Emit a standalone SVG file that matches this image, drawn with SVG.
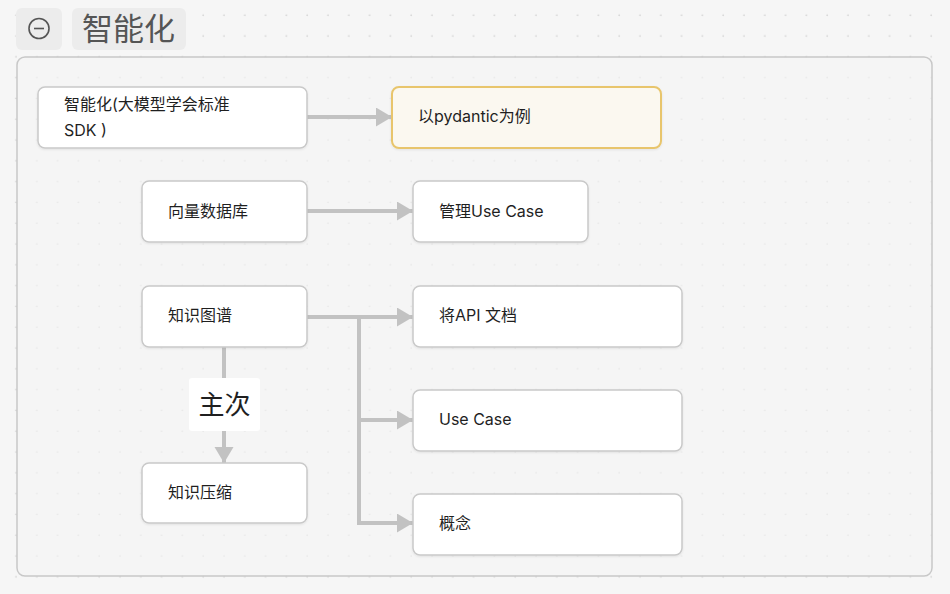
<svg xmlns="http://www.w3.org/2000/svg" width="950" height="594" viewBox="0 0 950 594">
<defs>
<pattern id="dots" x="0" y="0" width="20.8" height="20.8" patternUnits="userSpaceOnUse">
<circle cx="16" cy="15.2" r="0.9" fill="#d3d3d3"/>
</pattern>
<marker id="arr" markerUnits="userSpaceOnUse" markerWidth="18" markerHeight="20" refX="16" refY="9.5" orient="auto">
<path d="M0,0 L16,9.5 L0,19 Z" fill="#c2c2c2"/>
</marker>
<filter id="sh" x="-10%" y="-10%" width="120%" height="130%">
<feDropShadow dx="0" dy="1" stdDeviation="1" flood-color="#000" flood-opacity="0.08"/>
</filter>
</defs>
<style>
.node rect{fill:#ffffff;stroke:#c9c9c9;stroke-width:1.5;filter:url(#sh)}
.node text{font-family:"Inter","Noto Sans CJK SC",sans-serif;font-size:16px;fill:#1f1f1f}
.hl rect{fill:#fbf8f0;stroke:#e8c56c;stroke-width:2}
.edge{fill:none;stroke:#c2c2c2;stroke-width:4}
</style>
<rect width="950" height="594" fill="#f6f6f6"/>
<rect width="950" height="594" fill="url(#dots)"/>
<g id="header">
<rect x="16" y="8" width="46" height="42" rx="6" fill="#ececec"/>
<circle cx="39" cy="28.5" r="10" fill="none" stroke="#555" stroke-width="1.6"/>
<line x1="34" y1="28.5" x2="44" y2="28.5" stroke="#555" stroke-width="1.6"/>
<rect x="72" y="8" width="114" height="42" rx="6" fill="#ececec"/>
<text x="82" y="40" font-family="'Noto Sans CJK SC',sans-serif" font-size="31" fill="#555">智能化</text>
</g>
<g id="group">
<rect x="17" y="57" width="915" height="519" rx="8" fill="#f5f5f5" fill-opacity="0.6" stroke="#c8c8c8" stroke-width="1.5"/>
</g>
<g id="connectors">
<path class="edge" d="M307,117 H392" marker-end="url(#arr)"/>
<path class="edge" d="M307,211 H413" marker-end="url(#arr)"/>
<path class="edge" d="M307,317 H413" marker-end="url(#arr)"/>
<path class="edge" d="M359,317 V420 H413" marker-end="url(#arr)"/>
<path class="edge" d="M359,317 V523 H413" marker-end="url(#arr)"/>
<path class="edge" d="M224,347 V463" marker-end="url(#arr)"/>
<rect x="189" y="378" width="71" height="53" rx="3" fill="#ffffff"/>
<text x="224.5" y="414" text-anchor="middle" font-family="'Noto Sans CJK SC',sans-serif" font-size="26" fill="#1f1f1f">主次</text>
</g>
<g id="n1" class="node"><rect x="38" y="87" width="269" height="61" rx="7"/><text x="64" y="110">智能化(大模型学会标准</text><text x="64" y="136">SDK )</text></g>
<g id="n2" class="node hl"><rect x="392" y="87" width="269" height="61" rx="7"/><text x="418" y="122">以pydantic为例</text></g>
<g id="n3" class="node"><rect x="142" y="181" width="165" height="61" rx="7"/><text x="168" y="217">向量数据库</text></g>
<g id="n4" class="node"><rect x="413" y="181" width="175" height="61" rx="7"/><text x="439" y="217">管理Use Case</text></g>
<g id="n5" class="node"><rect x="142" y="286" width="165" height="61" rx="7"/><text x="168" y="321">知识图谱</text></g>
<g id="n6" class="node"><rect x="413" y="286" width="269" height="61" rx="7"/><text x="439" y="321">将API 文档</text></g>
<g id="n7" class="node"><rect x="413" y="390" width="269" height="61" rx="7"/><text x="439" y="425">Use Case</text></g>
<g id="n8" class="node"><rect x="413" y="494" width="269" height="61" rx="7"/><text x="439" y="529">概念</text></g>
<g id="n9" class="node"><rect x="142" y="463" width="165" height="60" rx="7"/><text x="168" y="498">知识压缩</text></g>
</svg>
